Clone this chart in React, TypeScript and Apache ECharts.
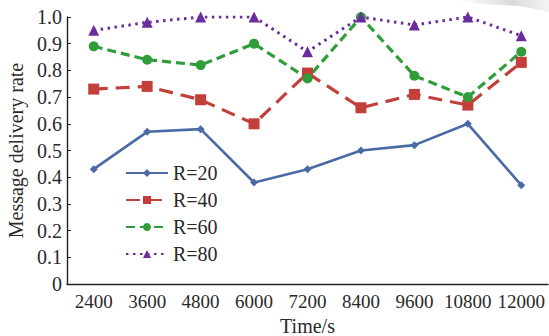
import React, { useEffect, useRef } from "react";
import * as echarts from "echarts";

const categories = ["2400", "3600", "4800", "6000", "7200", "8400", "9600", "10800", "12000"];
const r20 = [0.43, 0.57, 0.58, 0.38, 0.43, 0.5, 0.52, 0.6, 0.37];
const r40 = [0.73, 0.74, 0.69, 0.6, 0.79, 0.66, 0.71, 0.67, 0.83];
const r60 = [0.89, 0.84, 0.82, 0.9, 0.77, 1.0, 0.78, 0.7, 0.87];
const r80 = [0.95, 0.98, 1.0, 1.0, 0.87, 1.0, 0.97, 1.0, 0.93];
const seriesNames = ["R=20", "R=40", "R=60", "R=80"];

const FONT = "'Liberation Serif', 'DejaVu Serif', serif";
const TXT = "#2a2a2a";

export default function App() {
  const ref = useRef<HTMLDivElement>(null);
  useEffect(() => {
    if (!ref.current) return;
    const chart = echarts.init(ref.current, null, { renderer: "svg" });
    const mk = (name: string, data: number[], color: string, symbol: string, size: number, type: any, width: number) => ({
      name,
      type: "line",
      data,
      symbol,
      symbolSize: size,
      itemStyle: { color },
      lineStyle: { color, width, type },
    });
    chart.setOption({
      animation: false,
      backgroundColor: "#ffffff",
      graphic: [
        {
          type: "polygon",
          shape: { points: [[455, 0], [549, 0], [549, 12], [520, 6], [480, 4]] },
          style: {
            fill: new echarts.graphic.LinearGradient(0, 0, 1, 0, [
              { offset: 0, color: "rgba(220,220,220,0)" },
              { offset: 0.6, color: "rgba(200,200,200,0.7)" },
              { offset: 1, color: "rgba(230,230,230,0.5)" },
            ]),
          },
          silent: true,
          z: -1,
        },
      ],
      grid: { left: 67, right: 1, top: 17, bottom: 52, containLabel: false, outerBoundsMode: "none" },
      legend: {
        orient: "vertical",
        left: 120,
        top: 158,
        itemWidth: 42,
        itemHeight: 10,
        itemGap: 7,
        data: seriesNames,
        textStyle: { fontFamily: FONT, fontSize: 20, color: TXT },
      },
      xAxis: {
        type: "category",
        data: categories,
        boundaryGap: true,
        name: "Time/s",
        nameLocation: "middle",
        nameGap: 26,
        nameTextStyle: { fontFamily: FONT, fontSize: 20, color: TXT },
        axisLine: { lineStyle: { color: "#222", width: 1.4 } },
        axisTick: { inside: true, length: 4, interval: 0, lineStyle: { color: "#222" } },
        axisLabel: { fontFamily: FONT, fontSize: 19, color: TXT, margin: 8, interval: 0, hideOverlap: false },
        splitLine: { show: false },
      },
      yAxis: {
        type: "value",
        min: 0,
        max: 1,
        interval: 0.1,
        name: "Message delivery rate",
        nameLocation: "middle",
        nameGap: 36,
        nameTextStyle: { fontFamily: FONT, fontSize: 20, color: TXT },
        axisLine: { show: true, lineStyle: { color: "#222", width: 1.4 } },
        axisTick: { show: true, inside: true, length: 4, lineStyle: { color: "#222" } },
        axisLabel: {
          fontFamily: FONT,
          fontSize: 20,
          color: TXT,
          margin: 5,
          formatter: (v: number) => (v === 0 ? "0" : v.toFixed(1)),
        },
        splitLine: { show: false },
      },
      series: [
        mk(seriesNames[0], r20, "#4a6aa5", "diamond", 8, "solid", 2.6),
        mk(seriesNames[1], r40, "#c33f3a", "rect", 11, [14, 8], 3.2),
        mk(seriesNames[2], r60, "#2f9e3a", "circle", 10, [9, 5], 3.2),
        mk(seriesNames[3], r80, "#6a2c9a", "triangle", 11, [2.5, 4.5], 3),
      ],
    });
    return () => chart.dispose();
  }, []);
  return <div ref={ref} style={{ width: 549, height: 336, position: "absolute", left: 0, top: 0 }} />;
}
